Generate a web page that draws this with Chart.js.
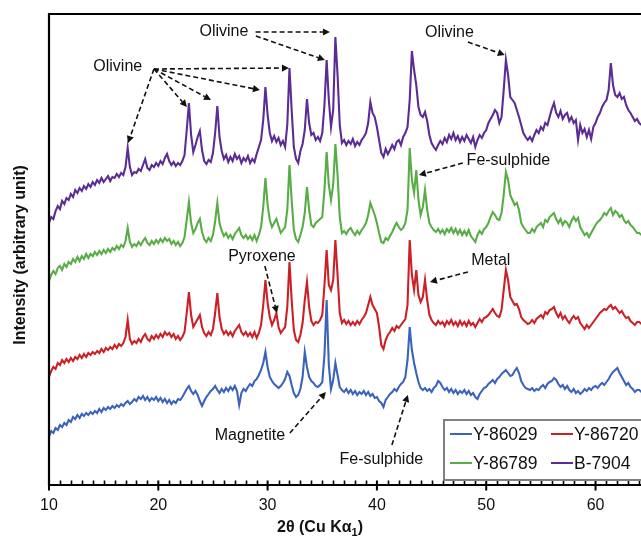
<!DOCTYPE html>
<html><head><meta charset="utf-8">
<script src="https://cdn.jsdelivr.net/npm/chart.js@4/dist/chart.umd.min.js"></script>
<style>html,body{margin:0;padding:0;background:#fff;}canvas{display:block;}</style>
</head><body>
<canvas id="c" width="641" height="541"></canvas>
<script>
// 2θ sampling positions (degrees)
const twoTheta = [
10,10.2,10.4,10.6,10.8,11,11.2,11.4,11.6,11.8,
12,12.2,12.4,12.6,12.8,13,13.2,13.4,13.6,13.8,
14,14.2,14.4,14.6,14.8,15,15.2,15.4,15.6,15.8,
16,16.2,16.4,16.6,16.8,17,17.2,17.4,17.6,17.8,
18,18.2,18.4,18.6,18.8,19,19.2,19.4,19.6,19.8,
20,20.2,20.4,20.6,20.8,21,21.2,21.4,21.6,21.8,
22,22.2,22.4,22.6,22.8,23,23.2,23.4,23.6,23.8,
24,24.2,24.4,24.6,24.8,25,25.2,25.4,25.6,25.8,
26,26.2,26.4,26.6,26.8,27,27.2,27.4,27.6,27.8,
28,28.2,28.4,28.6,28.8,29,29.2,29.4,29.6,29.8,
30,30.2,30.4,30.6,30.8,31,31.2,31.4,31.6,31.8,
32,32.2,32.4,32.6,32.8,33,33.2,33.4,33.6,33.8,
34,34.2,34.4,34.6,34.8,35,35.2,35.4,35.6,35.8,
36,36.2,36.4,36.6,36.8,37,37.2,37.4,37.6,37.8,
38,38.2,38.4,38.6,38.8,39,39.2,39.4,39.6,39.8,
40,40.2,40.4,40.6,40.8,41,41.2,41.4,41.6,41.8,
42,42.2,42.4,42.6,42.8,43,43.2,43.4,43.6,43.8,
44,44.2,44.4,44.6,44.8,45,45.2,45.4,45.6,45.8,
46,46.2,46.4,46.6,46.8,47,47.2,47.4,47.6,47.8,
48,48.2,48.4,48.6,48.8,49,49.2,49.4,49.6,49.8,
50,50.2,50.4,50.6,50.8,51,51.2,51.4,51.6,51.8,
52,52.2,52.4,52.6,52.8,53,53.2,53.4,53.6,53.8,
54,54.2,54.4,54.6,54.8,55,55.2,55.4,55.6,55.8,
56,56.2,56.4,56.6,56.8,57,57.2,57.4,57.6,57.8,
58,58.2,58.4,58.6,58.8,59,59.2,59.4,59.6,59.8,
60,60.2,60.4,60.6,60.8,61,61.2,61.4,61.6,61.8,
62,62.2,62.4,62.6,62.8,63,63.2,63.4,63.6,63.8,
64,64.2];

// Intensities (arbitrary units, offset stacked as in the figure)
const y86029 = [
48,54,52,57,55,60,58,62,60,65,
63,68,66,70,67,71,69,72,70,73,
71,74,72,76,73,77,75,78,76,79,
77,80,78,81,79,82,84,81,83,86,
84,88,86,89,85,88,84,87,85,88,
84,87,83,86,82,85,81,84,82,86,
85,88,92,96,99,94,91,94,90,84,
79,84,88,91,94,96,99,95,92,96,
93,97,94,98,95,99,94,80,92,96,
94,98,101,99,104,106,110,115,122,133,
118,108,104,101,99,97,99,102,106,113,
109,100,92,88,90,96,108,133,118,108,
104,102,99,98,100,103,130,185,120,96,
105,122,110,98,95,93,96,92,95,91,
94,90,93,91,94,90,93,89,91,87,
88,84,82,78,85,88,91,93,96,94,
98,101,103,108,125,158,135,122,112,103,
97,95,97,94,96,93,97,99,104,102,
98,95,97,93,96,92,95,91,94,92,
95,91,94,90,92,88,86,91,94,97,
98,101,103,105,102,106,108,111,113,115,
112,109,110,114,117,112,104,100,97,96,
95,97,94,96,95,98,100,97,101,103,
104,107,105,101,98,100,96,99,95,93,
96,92,94,91,93,96,94,97,95,98,
99,97,100,102,100,103,106,110,113,115,
117,112,108,104,100,102,98,96,93,95,
95,93];

const y86720 = [
108,114,118,116,122,120,125,122,126,123,
127,124,128,126,130,127,131,128,132,130,
133,131,134,132,136,133,137,135,138,136,
140,137,141,139,142,148,165,146,141,144,
142,146,143,148,151,146,144,149,146,150,
147,151,148,153,150,152,148,151,146,149,
145,148,153,172,193,170,158,162,166,170,
158,152,149,153,150,156,172,192,168,156,
151,154,150,153,149,154,157,160,153,150,
153,149,152,148,153,147,152,160,180,205,
182,168,160,165,172,158,152,155,158,178,
223,185,155,145,143,150,162,185,203,178,
164,160,163,162,165,170,200,235,200,195,
205,245,210,172,162,165,161,164,160,163,
160,164,161,165,168,172,180,188,180,176,
172,158,140,136,145,150,153,157,154,159,
157,160,163,166,180,245,210,195,215,190,
183,188,205,185,170,165,162,160,164,161,
163,159,164,161,165,160,163,159,164,160,
163,159,164,160,162,158,162,166,163,167,
168,170,173,176,172,169,168,175,195,215,
205,188,184,180,181,176,168,165,163,161,
162,165,162,166,168,170,167,173,171,175,
176,178,172,168,172,166,169,165,162,166,
169,166,168,162,159,156,160,157,160,163,
166,169,172,174,176,175,178,180,176,178,
175,172,174,170,167,168,164,162,160,163,
163,161];

const y86789 = [
204,210,214,211,217,219,215,221,218,223,
221,226,223,228,224,229,226,231,227,231,
229,233,230,234,231,235,232,236,233,237,
235,239,236,240,238,244,257,243,238,241,
239,243,240,244,247,242,240,244,241,245,
242,246,243,247,244,246,241,244,240,243,
239,242,248,265,283,262,252,256,262,266,
253,246,243,247,244,250,264,282,262,254,
249,252,247,250,246,251,254,257,250,247,
250,246,249,245,250,244,250,258,278,307,
280,265,258,262,266,259,252,255,258,275,
320,285,255,246,243,250,258,272,298,275,
260,258,262,264,266,268,295,333,300,285,
300,341,310,268,252,254,251,255,257,253,
250,254,251,255,258,262,270,282,276,270,
262,252,243,242,247,245,249,253,258,262,
258,255,257,262,275,337,305,292,315,285,
270,278,295,275,262,258,255,253,256,252,
255,251,256,253,257,252,256,251,255,250,
254,250,255,249,246,243,250,254,251,256,
258,262,268,273,270,266,265,272,290,313,
305,290,285,280,282,275,262,258,255,252,
252,256,253,258,260,262,258,265,263,268,
270,272,266,262,266,260,264,262,258,264,
268,264,267,258,254,250,252,248,252,256,
260,263,265,268,272,270,274,277,270,274,
272,268,270,265,262,264,260,258,255,252,
252,250];

const b7904 = [
262,268,266,274,279,276,284,281,287,285,
291,288,295,292,297,294,299,296,301,298,
303,300,305,302,307,303,306,309,304,308,
307,311,308,312,310,318,337,318,310,313,
312,316,314,320,326,317,315,320,318,322,
319,324,321,327,331,324,320,323,319,322,
320,324,330,355,382,350,333,340,348,354,
335,324,321,325,323,332,352,379,348,334,
326,330,323,328,324,331,326,329,322,327,
324,329,322,326,323,331,338,345,365,398,
370,352,344,349,343,347,340,344,338,360,
417,375,338,326,322,334,341,355,386,362,
350,352,345,348,344,352,380,425,385,358,
375,448,410,360,342,345,340,344,341,346,
339,343,340,345,348,352,362,383,372,368,
358,345,332,328,336,331,335,340,336,343,
345,340,348,352,358,385,434,415,400,378,
370,368,373,364,350,342,338,335,340,344,
341,347,343,350,346,352,345,349,343,348,
344,350,346,342,348,338,345,350,347,352,
355,362,366,370,375,372,362,368,395,425,
410,388,385,382,375,368,360,352,348,345,
348,344,350,355,352,358,355,362,360,368,
376,382,372,368,374,366,370,372,364,368,
362,365,345,360,352,356,348,355,346,358,
362,368,372,378,382,385,395,422,400,390,
388,392,386,388,380,375,372,368,364,366,
362,360];

const seriesNames = ['Y-86029','Y-86720','Y-86789','B-7904'];
const seriesColors = ['#3b63bb','#cc2026','#58ad46','#5b2c94'];
const xTickValues = [10,20,30,40,50,60];

// annotations (data coordinates: 2θ, intensity)
const labelTexts = ['Olivine','Olivine','Olivine','Fe-sulphide','Pyroxene','Metal','Magnetite','Fe-sulphide'];
const labelX = [16.29, 26.0, 46.63, 52.03, 29.48, 50.42, 28.38, 40.41];
const labelY = [418, 453, 452, 324, 228, 224, 49, 25];
const arrowFromX = [19.6,19.6,19.6,19.6,19.6, 28.9, 28.93, 48.32, 47.86, 29.75, 48.32, 32.04, 41.37];
const arrowFromY = [416,416,416,416,416, 453, 449, 443, 322, 219, 213, 52, 40];
const arrowToX   = [17.23,22.62,24.82,29.30,31.95, 35.70, 35.24, 51.70, 43.84, 30.85, 44.85, 35.33, 42.83];
const arrowToY   = [342,378,385,395,417, 453, 425, 430, 310, 172, 203, 93, 90];

const FONT = "'Liberation Sans', Arial, Helvetica, sans-serif";
const seriesData = [y86029, y86720, y86789, b7904];

const datasets = seriesData.map((vals, i) => ({
  label: seriesNames[i],
  data: twoTheta.map((t, k) => ({x: t, y: vals[k]})),
  borderColor: seriesColors[i],
  backgroundColor: seriesColors[i],
  borderWidth: 2.1,
  pointRadius: 0,
  tension: 0,
  fill: false
}));

function arrow(ctx, x1, y1, x2, y2) {
  const ang = Math.atan2(y2 - y1, x2 - x1);
  const L = 7, W = 3.6;
  const bx = x2 - L * Math.cos(ang), by = y2 - L * Math.sin(ang);
  ctx.save();
  ctx.strokeStyle = '#111'; ctx.fillStyle = '#111';
  ctx.lineWidth = 1.6;
  ctx.setLineDash([5, 3]);
  ctx.beginPath(); ctx.moveTo(x1, y1); ctx.lineTo(bx, by); ctx.stroke();
  ctx.setLineDash([]);
  ctx.beginPath();
  ctx.moveTo(x2, y2);
  ctx.lineTo(bx + W * Math.sin(ang), by - W * Math.cos(ang));
  ctx.lineTo(bx - W * Math.sin(ang), by + W * Math.cos(ang));
  ctx.closePath(); ctx.fill();
  ctx.restore();
}

const decor = {
  id: 'decor',
  afterDatasetsDraw(chart) {
    const ctx = chart.ctx, xs = chart.scales.x, ys = chart.scales.y, ca = chart.chartArea;
    ctx.save();
    // frame
    ctx.strokeStyle = '#000'; ctx.lineWidth = 2.2;
    ctx.beginPath();
    ctx.moveTo(ca.right + 2, ca.top); ctx.lineTo(ca.left, ca.top); ctx.lineTo(ca.left, ca.bottom); ctx.lineTo(ca.right + 2, ca.bottom);
    ctx.stroke();
    // ticks
    ctx.lineWidth = 1.6;
    for (let v = 11; v <= 64; v++) {
      if (v % 10 === 0) continue;
      const p = Math.round(xs.getPixelForValue(v)) + 0.5;
      ctx.beginPath(); ctx.moveTo(p, ca.bottom); ctx.lineTo(p, ca.bottom - 4.5); ctx.stroke();
    }
    ctx.lineWidth = 2;
    xTickValues.forEach(v => {
      const p = xs.getPixelForValue(v);
      ctx.beginPath(); ctx.moveTo(p, ca.bottom - 4.5); ctx.lineTo(p, ca.bottom + 5.5); ctx.stroke();
    });
    // annotations
    for (let i = 0; i < arrowFromX.length; i++) {
      arrow(ctx, xs.getPixelForValue(arrowFromX[i]), ys.getPixelForValue(arrowFromY[i]),
                 xs.getPixelForValue(arrowToX[i]), ys.getPixelForValue(arrowToY[i]));
    }
    ctx.fillStyle = '#111';
    ctx.font = '16px ' + FONT;
    ctx.textAlign = 'center'; ctx.textBaseline = 'middle';
    labelTexts.forEach((t, i) => {
      ctx.fillText(t, xs.getPixelForValue(labelX[i]), ys.getPixelForValue(labelY[i]));
    });
    // legend
    const lx = 444, ly = 420;
    ctx.fillStyle = '#fff';
    ctx.fillRect(lx, ly, 230, 60);
    ctx.strokeStyle = '#808080'; ctx.lineWidth = 2;
    ctx.strokeRect(lx, ly, 230, 60);
    ctx.font = '17.5px ' + FONT; ctx.textAlign = 'left'; ctx.textBaseline = 'middle';
    const pos = [[450, 434], [551, 434], [450, 463], [551, 463]];
    pos.forEach((p, i) => {
      ctx.strokeStyle = seriesColors[i]; ctx.lineWidth = 2;
      ctx.beginPath(); ctx.moveTo(p[0], p[1]); ctx.lineTo(p[0] + 22, p[1]); ctx.stroke();
      ctx.fillStyle = '#111';
      ctx.fillText(seriesNames[i], p[0] + 23, p[1] + 1);
    });
    // axis titles
    ctx.textBaseline = 'middle';
    const a = '2θ (Cu Kα', b = '1', c = ')';
    ctx.font = 'bold 16px ' + FONT; const wa = ctx.measureText(a).width, wc = ctx.measureText(c).width;
    ctx.font = 'bold 11px ' + FONT; const wb = ctx.measureText(b).width;
    let x0 = 320 - (wa + wb + wc) / 2;
    ctx.textAlign = 'left';
    ctx.font = 'bold 16px ' + FONT; ctx.fillText(a, x0, 528);
    ctx.font = 'bold 11px ' + FONT; ctx.fillText(b, x0 + wa, 533);
    ctx.font = 'bold 16px ' + FONT; ctx.fillText(c, x0 + wa + wb, 528);
    ctx.translate(21, 255); ctx.rotate(-Math.PI / 2);
    ctx.textAlign = 'center';
    ctx.font = 'bold 16px ' + FONT;
    ctx.fillText('Intensity (arbitrary unit)', 0, 0);
    ctx.restore();
  }
};

new Chart(document.getElementById('c'), {
  type: 'line',
  data: {datasets},
  options: {
    responsive: false,
    animation: false,
    devicePixelRatio: 1,
    layout: {padding: {top: 14, left: 0, right: 0, bottom: 0}},
    plugins: {legend: {display: false}, tooltip: {enabled: false}},
    scales: {
      x: {
        type: 'linear', min: 10, max: 64.16,
        grid: {display: false, drawTicks: false},
        border: {display: false},
        afterBuildTicks: s => { s.ticks = xTickValues.map(v => ({value: v})); },
        afterFit: s => { s.height = 56; },
        ticks: {color: '#111', font: {family: FONT, size: 16}, padding: 11, maxRotation: 0, autoSkip: false}
      },
      y: {
        type: 'linear', min: 0, max: 471,
        grid: {display: false, drawTicks: false},
        border: {display: false},
        ticks: {display: false},
        afterFit: s => { s.width = 49; }
      }
    }
  },
  plugins: [decor]
});
</script>
</body></html>
